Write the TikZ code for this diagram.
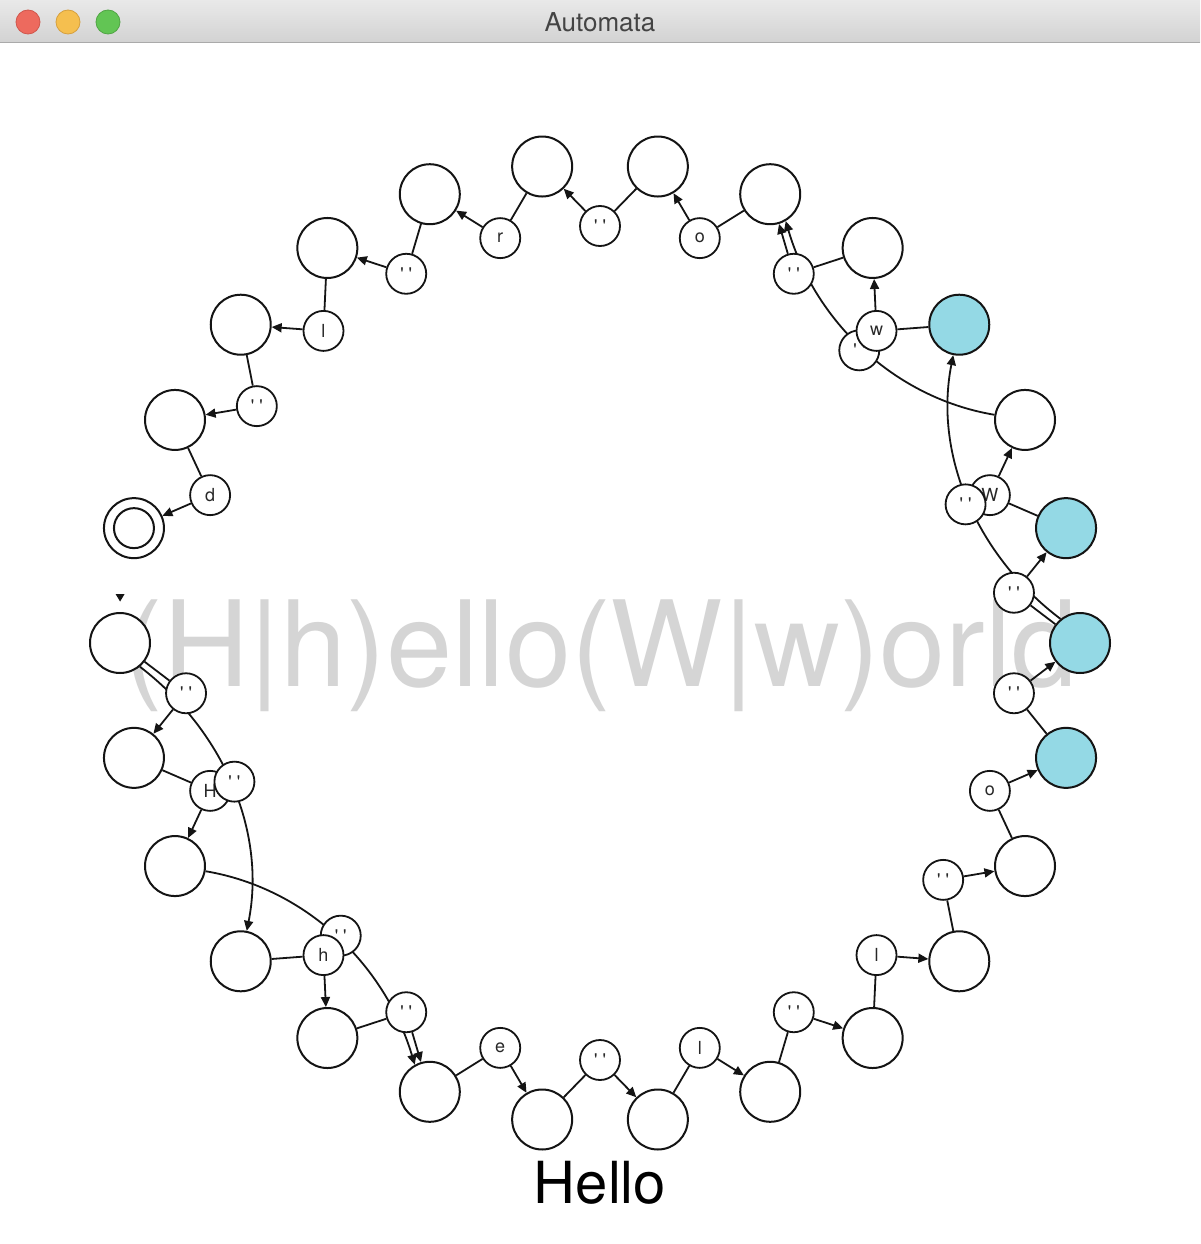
\documentclass[tikz,border=0pt]{standalone}
\usepackage{fontspec}
\setmainfont{TeX Gyre Heros}
\usetikzlibrary{calc,arrows.meta}
\pgfdeclarelayer{bglayer}
\pgfdeclarelayer{edgelayer}
\pgfsetlayers{bglayer,edgelayer,main}
\definecolor{lc}{RGB}{20,20,20}
\definecolor{act}{RGB}{148,217,229}
\definecolor{wm}{RGB}{213,213,213}
\definecolor{ttl}{RGB}{68,68,68}
\definecolor{lbltext}{RGB}{40,40,40}
\definecolor{bartop}{RGB}{233,233,233}
\definecolor{barbot}{RGB}{210,210,210}
\definecolor{barline}{RGB}{170,170,170}
\definecolor{tlred}{RGB}{237,106,94}
\definecolor{tlredb}{RGB}{208,86,76}
\definecolor{tlyel}{RGB}{245,191,79}
\definecolor{tlyelb}{RGB}{214,160,62}
\definecolor{tlgrn}{RGB}{98,197,84}
\definecolor{tlgrnb}{RGB}{80,165,68}
\newcommand{\emptylbl}{\textquotesingle\ \textquotesingle}
\begin{document}
\begin{tikzpicture}[x=1pt,y=-1pt,
  state/.style={circle, draw=lc, line width=2pt, fill=white, minimum size=60pt, inner sep=0pt},
  active/.style={state, fill=act},
  lbl/.style={circle, draw=lc, line width=1.8pt, fill=white, minimum size=40pt, inner sep=0pt,
              font=\fontsize{18}{18}\selectfont, text=lbltext},
  tr/.style={draw=lc, line width=1.8pt},
  arr/.style={tr, -{Triangle[length=10pt,width=9pt]}},
  light/.style={circle, line width=0.8pt, minimum size=24pt, inner sep=0pt}
]
\useasboundingbox (0,0) rectangle (1200,1244);

\begin{pgfonlayer}{bglayer}
  \fill[white] (0,0) rectangle (1200,1244);
  \shade[top color=bartop, bottom color=barbot] (0,0) rectangle (1200,43);
  \draw[barline, line width=1pt] (0,43) -- (1200,43);
  \node[light, fill=tlred, draw=tlredb] (btnclose) at (28,22) {};
  \node[light, fill=tlyel, draw=tlyelb] (btnmin) at (68,22) {};
  \node[light, fill=tlgrn, draw=tlgrnb] (btnzoom) at (108,22) {};
  \node[anchor=base, inner sep=0pt, text=ttl, font=\fontsize{26}{26}\selectfont] (title) at (600,32) {Automata};
  \node[anchor=base, inner sep=0pt, text=wm, font=\fontsize{119}{119}\selectfont] (wmark) at (601,686) {(H|h)ello(W|w)orld};
\end{pgfonlayer}

% state positions
\foreach \k in {0,...,25}
  \coordinate (p\k) at ($(600,643)+({180+\k*360/26}:480pt)$);

% states
\foreach \k in {0,...,11,15,17,18,19,20,21,22,23,24,25}
  \node[state] (s\k) at (p\k) {};
\foreach \k in {12,13,14,16}
  \node[active] (s\k) at (p\k) {};
\node[circle, draw=lc, line width=2pt, minimum size=40pt, inner sep=0pt] (s25inner) at (p25) {};

% start marker
\fill[lc] (115.6,594) -- (124.6,594) -- (120.1,601.5) -- cycle;

% labels of single-step transitions
\foreach \k/\t in {0/\emptylbl, 1/H, 4/\emptylbl, 5/e, 6/\emptylbl, 7/l, 8/\emptylbl, 9/l,
                   10/\emptylbl, 11/o, 12/\emptylbl, 13/\emptylbl, 14/W, 17/\emptylbl, 18/o,
                   19/\emptylbl, 20/r, 21/\emptylbl, 22/l, 23/\emptylbl, 24/d}
  \node[lbl] (l\k) at ($(600,643)+({180+(\k+0.5)*360/26}:417pt)$) {\t};

% labels of the three-step epsilon transitions
\foreach \a in {0,2,13,15}
  \node[lbl] (m\a) at ($(600,643)+({180+(\a+1.5)*360/26}:391pt)$) {\emptylbl};

% labels drawn on top
\node[lbl] (l3) at ($(600,643)+({180+3.5*360/26}:417pt)$) {h};
\node[lbl] (l16) at ($(600,643)+({180+16.5*360/26}:417pt)$) {w};

% "Hello" input text
\node[anchor=base, inner sep=0pt, text=black, font=\fontsize{58}{58}\selectfont] (input) at (600,1203) {Hello};

\begin{pgfonlayer}{edgelayer}
  \foreach \k/\n in {0/1,1/2,3/4,4/5,5/6,6/7,7/8,8/9,9/10,10/11,11/12,12/13,13/14,14/15,
                     16/17,17/18,18/19,19/20,20/21,21/22,22/23,23/24,24/25} {
    \draw[tr] (s\k) -- (l\k);
    \draw[arr] (l\k) -- (s\n);
  }
  \draw[arr] (s0.-50.2) .. controls (222.2,729.6) and (266.7,830.1) .. (s3);
  \draw[arr] (s2) .. controls (306.9,888.3) and (385.1,965.5) .. (s5.119.4);
  \draw[arr] (s13.129.8) .. controls (977.8,556.4) and (933.3,455.9) .. (s16);
  \draw[arr] (s15) .. controls (893.1,397.7) and (814.9,320.5) .. (s18.-60.6);
\end{pgfonlayer}
\end{tikzpicture}
\end{document}
